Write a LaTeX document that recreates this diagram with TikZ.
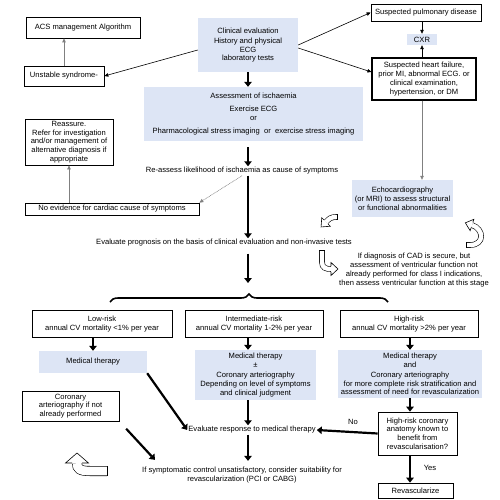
\documentclass[tikz,border=0pt]{standalone}
\usepackage{fontspec}
\setmainfont{Liberation Sans}
\usetikzlibrary{arrows.meta,decorations.pathreplacing}
\definecolor{boxblue}{RGB}{221,229,245}
\newcommand{\hollowhead}[6]{%
  \filldraw[fill=white,draw=black,line width=0.6pt,shift={(#1,#2)},rotate=#3]
    (0,#4) -- (0,#5) -- (#6,0) -- (0,-#5) -- (0,-#4);}

\begin{document}
\begin{tikzpicture}[x=1pt,y=-1pt,
    every node/.style={font=\fontsize{7.6}{8.8}\selectfont, align=center, inner sep=1pt},
    plainbox/.style={draw, line width=0.7pt, inner sep=0pt},
    bluebox/.style={fill=boxblue, inner sep=0pt},
    bigarrow/.style={line width=2.2pt, -{Triangle[length=5pt,width=7.5pt]}},
    thinarrow/.style={line width=0.6pt, -{Triangle[length=4pt,width=3.5pt]}},
    greyarrow/.style={thinarrow, draw=gray, fill=gray},
    hollowband/.style={double=white, double distance=#1, line width=0.6pt}]
    \useasboundingbox (0,0) rectangle (500,500);

    \node[plainbox, minimum width=114pt, minimum height=21pt] (acs) at (83,27.5) {ACS management Algorithm};
    \node[plainbox, minimum width=80pt, minimum height=20pt] (unstable) at (64,76) {Unstable syndrome-};
    \node[bluebox, minimum width=100pt, minimum height=54pt] (clinical) at (248,45) {Clinical evaluation\\[1.5pt] History and physical\\ ECG\\ laboratory tests};
    \node[plainbox, minimum width=110pt, minimum height=17pt] (pulm) at (426,12.5) {Suspected pulmonary disease};
    \node[bluebox, minimum width=30pt, minimum height=11pt] (cxr) at (422,39.5) {CXR};
    \node[plainbox, line width=1.2pt, minimum width=104pt, minimum height=42pt] (heart) at (424,79) {Suspected heart failure,\\ prior MI, abnormal ECG. or\\ clinical examination,\\ hypertension, or DM};
    \node[bluebox, minimum width=219pt, minimum height=54pt] (assess) at (253.5,114) {Assessment of ischaemia\\[4pt] Exercise ECG\\ or\\[4pt] Pharmacological stress imaging\ \ or\ \ exercise stress imaging};
    \node (reassess) at (242,171) {Re-assess likelihood of ischaemia as cause of symptoms};
    \node[plainbox, minimum width=88pt, minimum height=46pt] (reassure) at (69,142) {Reassure.\\ Refer for investigation\\ and/or management of\\ alternative diagnosis if\\ appropriate};
    \node[plainbox, minimum width=174pt, minimum height=12pt] (noevid) at (112,209) {No evidence for cardiac cause of symptoms};
    \node[bluebox, minimum width=101pt, minimum height=37pt] (echo) at (402.5,198.5) {Echocardiography\\ (or MRI) to assess structural\\ or functional abnormalities};
    \node (prognosis) at (224,243) {Evaluate prognosis on the basis of clinical evaluation and non-invasive tests};
    \node (cad) at (414,270) {If diagnosis of CAD is secure, but\\ assessment of ventricular function not\\ already performed for class I indications,\\ then assess ventricular function at this stage};

    \node[plainbox, minimum width=140pt, minimum height=27pt] (low) at (102,324) {Low-risk\\ annual CV mortality <1\% per year};
    \node[plainbox, minimum width=138pt, minimum height=27pt] (inter) at (254,324) {Intermediate-risk\\ annual CV mortality 1-2\% per year};
    \node[plainbox, minimum width=138pt, minimum height=27pt] (high) at (409,324) {High-risk\\ annual CV mortality >2\% per year};
    \node[bluebox, minimum width=108pt, minimum height=22pt] (lowblue) at (93,362) {Medical therapy};
    \node[bluebox, minimum width=121pt, minimum height=50pt] (interblue) at (255.5,375) {Medical therapy\\ ±\\[1pt] Coronary arteriography\\ Depending on level of symptoms\\ and clinical judgment};
    \node[bluebox, minimum width=144pt, minimum height=48pt] (highblue) at (410,374) {Medical therapy\\ and\\[1pt] Coronary arteriography\\ for more complete risk stratification and\\ assessment of need for revascularization};

    \node (response) at (252,430) {Evaluate response to medical therapy};
    \node (symptom) at (242,475) {If symptomatic control unsatisfactory, consider suitability for\\ revascularization (PCI or CABG)};
    \node[plainbox, minimum width=97pt, minimum height=30pt] (coronary) at (70.5,406) {Coronary\\ arteriography if not\\ already performed};
    \node[plainbox, minimum width=79pt, minimum height=43pt] (anatomy) at (417.5,433.5) {High-risk coronary\\ anatomy known to\\ benefit from\\ revascularisation?};
    \node[plainbox, minimum width=75pt, minimum height=15pt] (revasc) at (415.5,490.5) {Revascularize};
    \node (no) at (353,422) {No};
    \node (yes) at (430,468) {Yes};

    \coordinate (spine) at (248,0);
    \coordinate (bracetip) at (248,283);
    \coordinate (braceL) at (110,302);
    \coordinate (braceR) at (388,302);

    \draw[greyarrow, line width=1pt] (unstable.north) -- (unstable.north |- acs.south);
    \draw[thinarrow] ([yshift=-5pt]clinical.west) -- (unstable.east);
    \draw[thinarrow] (clinical.east) -- (pulm.west);
    \draw[thinarrow] ([yshift=-3pt]clinical.east) -- ([yshift=7pt]heart.west);
    \draw[thinarrow] (pulm.south -| cxr.north) -- (cxr.north);
    \draw[thinarrow] (heart.north -| cxr.south) -- (cxr.south);
    \draw[greyarrow] (heart.south -| cxr.south) -- (echo.north -| cxr.south);
    \draw[bigarrow] (spine |- clinical.south) -- (spine |- assess.north);
    \draw[bigarrow, shorten <=6pt] (spine |- assess.south) -- (spine |- reassess.north);
    \draw[bigarrow] (spine |- reassess.south) -- (spine |- prognosis.north);
    \draw[greyarrow, densely dotted] (reassess.south) -- (noevid.north east);
    \draw[greyarrow] (noevid.north -| reassure.south) -- (reassure.south);
    \draw[bigarrow, shorten <=6pt] (spine |- prognosis.south) -- (bracetip);
    \draw[decorate, decoration={brace, amplitude=8pt}, line width=1.6pt] (braceL) -- (braceR);

    \draw[bigarrow] (lowblue.north |- low.south) -- (lowblue.north);
    \draw[bigarrow] (spine |- inter.south) -- (spine |- interblue.north);
    \draw[bigarrow] (highblue.north |- high.south) -- (highblue.north);
    \draw[bigarrow] (lowblue.south east) -- (response.west);
    \draw[bigarrow] (spine |- interblue.south) -- (spine |- response.north);
    \draw[bigarrow, shorten >=5pt] (spine |- response.south) -- (spine |- symptom.north);
    \draw[bigarrow, shorten <=10pt] (coronary.south east) -- ([xshift=14pt,yshift=6pt]symptom.north west);
    \draw[bigarrow] (highblue.south) -- (highblue.south |- anatomy.north);
    \draw[bigarrow] (anatomy.west) -- (response.east);
    \draw[bigarrow] (anatomy.south -| highblue.south) -- (revasc.north -| highblue.south);

    \draw[hollowband=4.4pt] (337,217) .. controls (330,217) and (329,219) .. (326,222);
    \draw[line width=0.6pt] (337,214.2) -- (337,219.8);
    \hollowhead{326}{222}{225}{2.8}{6}{7}
    \draw[hollowband=4.4pt] (466,245) -- (470,245) .. controls (485,245) and (484,229) .. (472,225);
    \draw[line width=0.6pt] (466,242.2) -- (466,247.8);
    \hollowhead{472}{225}{162}{2.8}{6}{7}
    \draw[hollowband=4.4pt] (322,250) -- (322,262) .. controls (322,268) and (326,269) .. (331,269);
    \draw[line width=0.6pt] (319.2,250) -- (324.8,250);
    \hollowhead{331}{269}{0}{2.8}{6.5}{7}
    \draw[hollowband=8.8pt] (107,471) -- (90,471) .. controls (80,471) and (77,469) .. (77,463);
    \draw[line width=0.6pt] (107,466) -- (107,476);
    \hollowhead{77}{463}{90}{5}{11.5}{10}
\end{tikzpicture}
\end{document}
